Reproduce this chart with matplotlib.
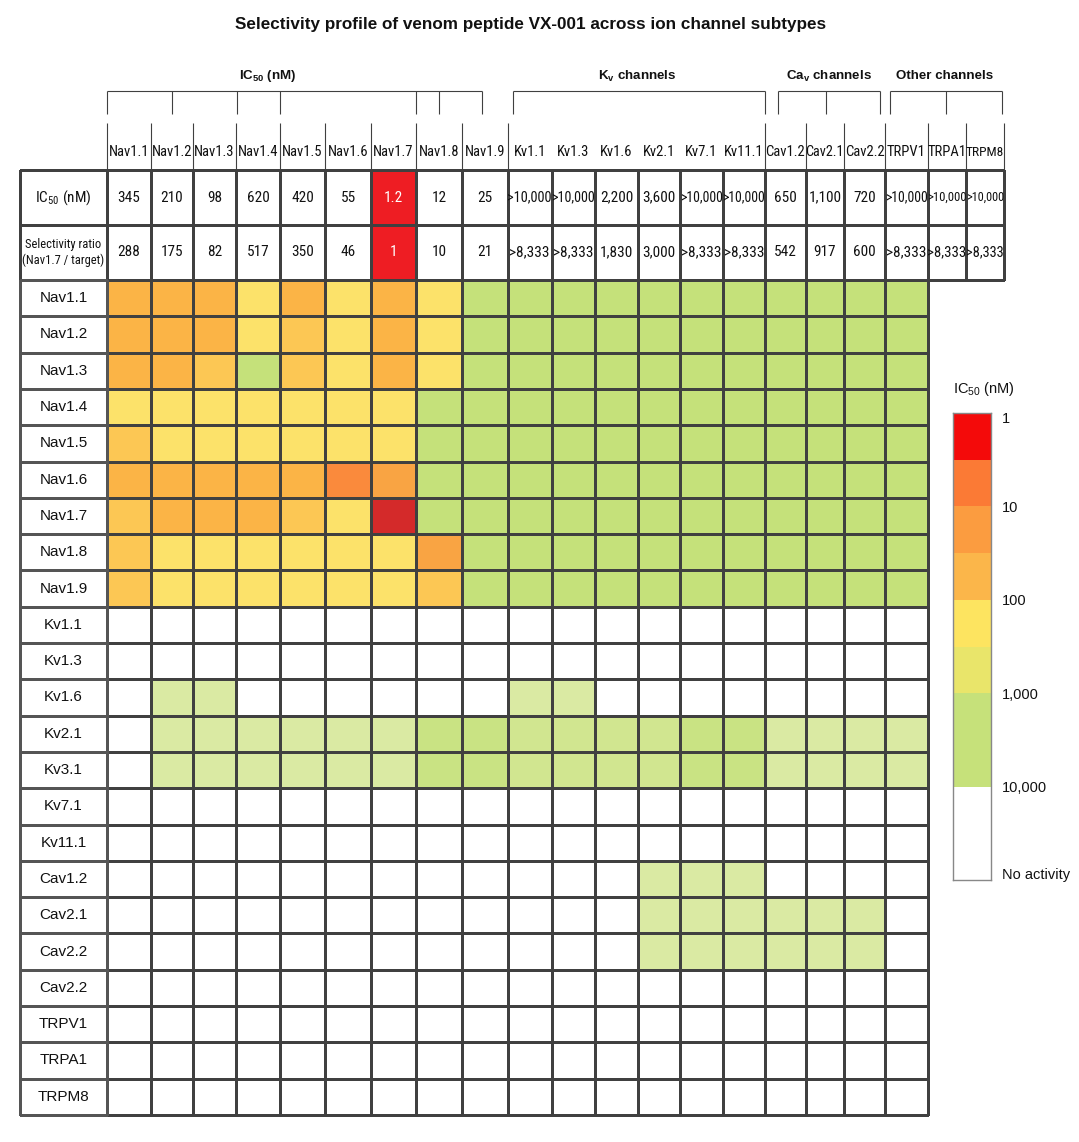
import matplotlib
matplotlib.use("Agg")
import matplotlib.pyplot as plt
import numpy as np
from matplotlib.colors import ListedColormap
from matplotlib import font_manager as fm
from matplotlib.font_manager import FontProperties

# ---------------- data ----------------
title = "Selectivity profile of venom peptide VX-001 across ion channel subtypes"

target_channels = ["Nav1.1", "Nav1.2", "Nav1.3", "Nav1.4", "Nav1.5", "Nav1.6", "Nav1.7",
                   "Nav1.8", "Nav1.9", "Kv1.1", "Kv1.3", "Kv1.6", "Kv2.1", "Kv7.1", "Kv11.1",
                   "Cav1.2", "Cav2.1", "Cav2.2", "TRPV1", "TRPA1", "TRPM8"]
channel_groups = ["Nav"] * 9 + ["Kv"] * 6 + ["Cav"] * 3 + ["Other"] * 3

ic50_text = ["345", "210", "98", "620", "420", "55", "1.2", "12", "25",
             ">10,000", ">10,000", "2,200", "3,600", ">10,000", ">10,000",
             "650", "1,100", "720", ">10,000", ">10,000", ">10,000"]
selectivity_text = ["288", "175", "82", "517", "350", "46", "1", "10", "21",
                    ">8,333", ">8,333", "1,830", "3,000", ">8,333", ">8,333",
                    "542", "917", "600", ">8,333", ">8,333", ">8,333"]
highlight_channel = "Nav1.7"

row_channels = ["Nav1.1", "Nav1.2", "Nav1.3", "Nav1.4", "Nav1.5", "Nav1.6", "Nav1.7",
                "Nav1.8", "Nav1.9", "Kv1.1", "Kv1.3", "Kv1.6", "Kv2.1", "Kv3.1", "Kv7.1",
                "Kv11.1", "Cav1.2", "Cav2.1", "Cav2.2", "Cav2.2", "TRPV1", "TRPA1", "TRPM8"]

# heatmap shade codes, one string per row, one character per column (first 19 channels)
heat_codes = [
    "oooyoyoyGGGGGGGGGGG",  # Nav1.1
    "oooyayoyGGGGGGGGGGG",  # Nav1.2
    "ooaGayoyGGGGGGGGGGG",  # Nav1.3
    "yyyyyyyGGGGGGGGGGGG",  # Nav1.4
    "ayyyyyyGGGGGGGGGGGG",  # Nav1.5
    "ooooorOGGGGGGGGGGGG",  # Nav1.6
    "aoooayRGGGGGGGGGGGG",  # Nav1.7
    "ayyyyyyOGGGGGGGGGGG",  # Nav1.8
    "ayyyyyyaGGGGGGGGGGG",  # Nav1.9
    "WWWWWWWWWWWWWWWWWWW",  # Kv1.1
    "WWWWWWWWWWWWWWWWWWW",  # Kv1.3
    "WllWWWWWWllWWWWWWWW",  # Kv1.6
    "WllllllggmmmmggllllW"[:19],  # Kv2.1
    "WllllllggmmmmggllllW"[:19],  # Kv3.1
    "WWWWWWWWWWWWWWWWWWW",  # Kv7.1
    "WWWWWWWWWWWWWWWWWWW",  # Kv11.1
    "WWWWWWWWWWWWlllWWWW",  # Cav1.2
    "WWWWWWWWWWWWllllllW",  # Cav2.1
    "WWWWWWWWWWWWllllllW",  # Cav2.2
    "WWWWWWWWWWWWWWWWWWW",  # Cav2.2
    "WWWWWWWWWWWWWWWWWWW",  # TRPV1
    "WWWWWWWWWWWWWWWWWWW",  # TRPA1
    "WWWWWWWWWWWWWWWWWWW",  # TRPM8
]
shade_colors = {"R": "#D42A2A", "r": "#FA8A3C", "O": "#F9A443", "o": "#FBB446",
                "a": "#FCC754", "y": "#FCE26A", "G": "#C5E17A", "g": "#C9E383",
                "m": "#D1E690", "l": "#DAEAA3", "W": "#FFFFFF"}

legend_title = "IC$_\\mathregular{50}$ (nM)"
legend_log_edges = [0, 0.5, 1, 1.5, 2, 2.5, 3, 4, 5]
legend_colors = ["#F40A0A", "#FB7A35", "#FB9C40", "#FBB64A", "#FDE460", "#E9E56A", "#C6E17A", "#FFFFFF"]
legend_labels = ["1", "10", "100", "1,000", "10,000", "No activity"]
legend_label_pos = [0.05, 1, 2, 3, 4, 4.93]

group_labels = ["IC$_\\mathregular{50}$ (nM)", "K$_\\mathregular{v}$ channels",
                "Ca$_\\mathregular{v}$ channels", "Other channels"]

# ---------------- fonts ----------------
REG = "Liberation Sans"
TXT = "#111111"


def _find_narrow():
    prefs = ["liberationsansnarrow", "arialn", "arialnarrow", "robotocondensed",
             "opensans_condensed", "opensanscondensed", "notosans-condensed",
             "notosanscondensed", "dejavusanscondensed"]
    cands = []
    for f in fm.fontManager.ttflist:
        fn = f.fname.lower().replace(" ", "")
        base = fn.rsplit("/", 1)[-1]
        stretch = str(f.stretch).lower()
        if not ("narrow" in base or "condensed" in base or "condensed" in stretch):
            continue
        if any(k in base for k in ["bold", "italic", "oblique", "light", "thin", "medium",
                                   "black", "semi", "extra"]):
            continue
        if str(f.style).lower() != "normal":
            continue
        rank = len(prefs)
        for i, p in enumerate(prefs):
            if p in base:
                rank = i
                break
        cands.append((rank, f.fname))
    if not cands:
        return None
    cands.sort()
    return cands[0][1]


NARROW_PATH = _find_narrow()


def nfont(size):
    if NARROW_PATH:
        return dict(fontproperties=FontProperties(fname=NARROW_PATH, size=size))
    return dict(family=REG, fontsize=size)


# ---------------- layout ----------------
W, H = 1079, 1142
col_edges = np.array([107, 150.5, 193, 236, 280, 325, 371, 416, 462, 507.5,
                      551.7, 595.3, 637.7, 680.2, 722.7, 765.1,
                      805.8, 843.8, 885.2, 927.6, 966.4, 1004.0])
label_x0 = 20
name_top, name_bot = 123, 170
ic_bot, sel_bot = 225, 280
row_h = 36.3
n_hm_cols = 19
line_c = "#404040"


def cx(u):
    return np.interp(u, np.arange(len(col_edges)), col_edges)


fig = plt.figure(figsize=(W / 100, H / 100), dpi=100)
ax = fig.add_axes([0, 0, 1, 1])
ax.set_xlim(0, W)
ax.set_ylim(H, 0)
ax.axis("off")
fit_texts = []

# title
ax.text(531, 25, title, ha="center", va="center", fontsize=12.3, fontweight="bold",
        family=REG, color=TXT)

# group brackets
bracket_ticks = [[0, 1.5, 3.02, 4, 7, 7.5, 8.45], [9.12, 15], [15.32, 16.53, 17.87], [18.11, 19.47, 20.95]]
group_label_pos = [3.73, 12.0, 16.6, 19.45]
br_top, br_bot = 91, 114
for ticks, lab, lp in zip(bracket_ticks, group_labels, group_label_pos):
    xs = cx(np.array(ticks))
    ax.hlines(br_top, xs[0], xs[-1], color=line_c, lw=0.8)
    ax.vlines(xs, br_top, br_bot, color=line_c, lw=0.8)
    ax.text(cx(lp), 76, lab, ha="center", va="center", fontsize=9.6, fontweight="bold",
            family=REG, color=TXT)

# channel name row
for i, name in enumerate(target_channels):
    w = col_edges[i + 1] - col_edges[i]
    t = ax.text((col_edges[i] + col_edges[i + 1]) / 2, (name_top + name_bot) / 2 + 6, name,
                ha="center", va="center", color=TXT, **nfont(10.5))
    fit_texts.append((t, w + 1))
div_idx = [i for i in range(len(col_edges))
           if i == 0 or i == len(col_edges) - 1
           or channel_groups[i - 1] != channel_groups[i] or channel_groups[i] != "Kv"]
ax.vlines(col_edges[div_idx], name_top, name_bot, color=line_c, lw=0.8)

# IC50 / selectivity rows
hx = np.concatenate([[label_x0], col_edges])
hy = np.array([name_bot, ic_bot, sel_bot])
hl = np.array([[0] + [1 if c == highlight_channel else 0 for c in target_channels]] * 2)
ax.pcolormesh(hx, hy, hl, cmap=ListedColormap(["#FFFFFF", "#EE1D23"]), vmin=0, vmax=1,
              edgecolors=line_c, linewidth=0.8, snap=True)
lw_lab = col_edges[0] - label_x0
t = ax.text((label_x0 + col_edges[0]) / 2, (name_bot + ic_bot) / 2, "IC$_\\mathregular{50}$ (nM)",
            ha="center", va="center", color=TXT, **nfont(11))
fit_texts.append((t, lw_lab - 6))
t = ax.text((label_x0 + col_edges[0]) / 2, (ic_bot + sel_bot) / 2, "Selectivity ratio\n(Nav1.7 / target)",
            ha="center", va="center", color=TXT, linespacing=1.25, **nfont(9))
fit_texts.append((t, lw_lab - 4))
for i, ch in enumerate(target_channels):
    xc = (col_edges[i] + col_edges[i + 1]) / 2
    w = col_edges[i + 1] - col_edges[i]
    tc = "white" if ch == highlight_channel else TXT
    t1 = ax.text(xc, (name_bot + ic_bot) / 2, ic50_text[i], ha="center", va="center",
                 color=tc, **nfont(11))
    t2 = ax.text(xc, (ic_bot + sel_bot) / 2, selectivity_text[i], ha="center", va="center",
                 color=tc, **nfont(11))
    fit_texts.append((t1, w + 0.5))
    fit_texts.append((t2, w + 0.5))

# heatmap
keys = list(shade_colors.keys())
M = np.array([[keys.index(c) for c in row] for row in heat_codes])
y_edges = sel_bot + row_h * np.arange(len(row_channels) + 1)
ax.pcolormesh(col_edges[:n_hm_cols + 1], y_edges, M,
              cmap=ListedColormap([shade_colors[k] for k in keys]),
              vmin=-0.5, vmax=len(keys) - 0.5, edgecolors=line_c, linewidth=0.75, snap=True)
ax.pcolormesh([label_x0, col_edges[0]], y_edges, np.zeros((len(row_channels), 1)),
              cmap=ListedColormap(["#FFFFFF"]), edgecolors="#555555", linewidth=0.8, snap=True)
for j, name in enumerate(row_channels):
    ax.text((label_x0 + col_edges[0]) / 2, (y_edges[j] + y_edges[j + 1]) / 2, name,
            ha="center", va="center", fontsize=11, family=REG, color=TXT)

# legend
lx0, lx1, ly0, ly1 = 953, 991, 413, 880
lax = fig.add_axes([lx0 / W, 1 - ly1 / H, (lx1 - lx0) / W, (ly1 - ly0) / H])
lax.pcolormesh([0, 1], legend_log_edges, np.arange(len(legend_colors)).reshape(-1, 1),
               cmap=ListedColormap(legend_colors), vmin=-0.5, vmax=len(legend_colors) - 0.5)
lax.set_xlim(0, 1)
lax.set_ylim(legend_log_edges[-1], legend_log_edges[0])
lax.set_xticks([])
lax.yaxis.tick_right()
lax.set_yticks(legend_label_pos)
lax.set_yticklabels(legend_labels, fontsize=10.5, family=REG, color=TXT)
lax.tick_params(axis="y", length=0, pad=8)
for s in lax.spines.values():
    s.set_color("#888888")
    s.set_linewidth(1)
ax.text(lx0, 389, legend_title, ha="left", va="center", fontsize=10.5, family=REG, color=TXT)

# shrink texts that do not fit their cells
fig.canvas.draw()
rend = fig.canvas.get_renderer()
for t, mw in fit_texts:
    wpx = t.get_window_extent(rend).width
    if wpx > mw:
        t.set_fontsize(t.get_fontsize() * mw / wpx)

fig.savefig("out.png", dpi=100, facecolor="white")
